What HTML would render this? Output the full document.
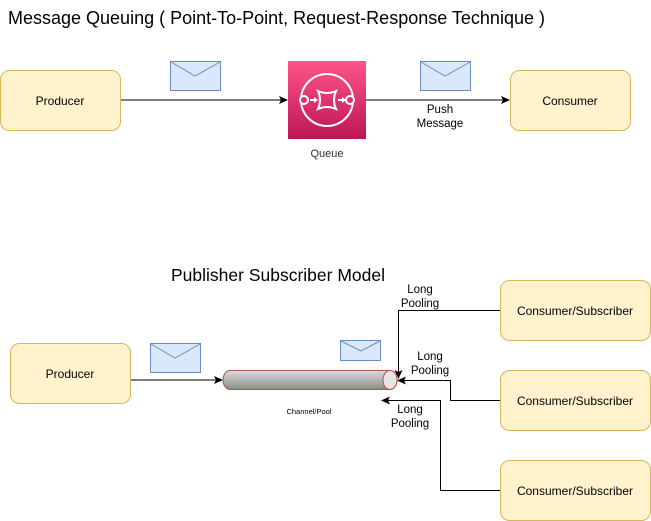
<!DOCTYPE html><html><head><style>body{margin:0;background:#fff}svg{display:block}text{font-family:"Liberation Sans",Arial,sans-serif}</style></head><body>
<svg width="651" height="521" viewBox="0 0 651 521" xmlns="http://www.w3.org/2000/svg">
<defs>
<marker id="a" markerWidth="10" markerHeight="10" refX="8" refY="5" orient="auto" markerUnits="userSpaceOnUse"><path d="M0,1 L9,5 L0,9 L2,5z" fill="#000"/></marker>
<linearGradient id="q" x1="0" y1="0" x2="0" y2="1"><stop offset="0" stop-color="#fe5489"/><stop offset="1" stop-color="#bd1657"/></linearGradient>
<linearGradient id="c" x1="0" y1="0" x2="0" y2="1"><stop offset="0" stop-color="#dcdcdc"/><stop offset="1" stop-color="#8a8a8a"/></linearGradient>
</defs>
<text x="8" y="24" font-size="18">Message Queuing ( Point-To-Point, Request-Response Technique )</text>
<rect x="0.5" y="70.5" width="120" height="60" rx="9" fill="#fff2cc" stroke="#d6b656"/>
<text x="60" y="105" font-size="12" text-anchor="middle">Producer</text>
<rect x="510.5" y="70.5" width="120" height="60" rx="9" fill="#fff2cc" stroke="#d6b656"/>
<text x="570" y="105" font-size="12" text-anchor="middle">Consumer</text>
<line x1="121" y1="100" x2="287" y2="100" stroke="#000" marker-end="url(#a)"/>
<line x1="366" y1="100" x2="509" y2="100" stroke="#000" marker-end="url(#a)"/>
<g fill="#dae8fc" stroke="#6c8ebf"><rect x="170.5" y="61.5" width="50" height="29"/><rect x="420.5" y="61.5" width="50" height="29"/></g>
<g fill="none" stroke="#6c8ebf"><path d="M171,62 L195,76 L220,62"/><path d="M421,62 L445,76 L470,62"/></g>
<rect x="288" y="61" width="78" height="78" fill="url(#q)"/>
<g stroke="#fff" stroke-width="2" fill="none">
<circle cx="327" cy="100" r="26"/>
<circle cx="304" cy="100" r="4" fill="#e03070"/><circle cx="350" cy="100" r="4" fill="#e03070"/>
<path d="M310,100 H316 M338,100 H344"/>
<path d="M318,91 Q327,95 336,91 Q332,100 336,109 Q327,105 318,109 Q322,100 318,91z"/>
</g>
<path d="M314,97 L318,100 L314,103z M342,97 L346,100 L342,103z" fill="#fff"/>
<text x="327" y="157" font-size="11" text-anchor="middle" fill="#232f3e">Queue</text>
<text x="440" y="113" font-size="11.5" text-anchor="middle">Push</text>
<text x="440" y="127" font-size="11.5" text-anchor="middle">Message</text>

<text x="278" y="281" font-size="17.5" text-anchor="middle">Publisher Subscriber Model</text>
<rect x="10.5" y="343.5" width="120" height="60" rx="9" fill="#fff2cc" stroke="#d6b656"/>
<text x="70" y="378" font-size="12" text-anchor="middle">Producer</text>
<g fill="#fff2cc" stroke="#d6b656"><rect x="500.5" y="280.5" width="150" height="60" rx="9"/><rect x="500.5" y="370.5" width="150" height="60" rx="9"/><rect x="500.5" y="460.5" width="150" height="60" rx="9"/></g>
<g font-size="12" text-anchor="middle"><text x="575" y="315">Consumer/Subscriber</text><text x="575" y="405">Consumer/Subscriber</text><text x="575" y="495">Consumer/Subscriber</text></g>
<g fill="#dae8fc" stroke="#6c8ebf"><rect x="150.5" y="343.5" width="50" height="29"/><rect x="340.5" y="340.5" width="40" height="20"/></g>
<g fill="none" stroke="#6c8ebf"><path d="M151,344 L175,358 L200,344"/><path d="M341,341 L361,351 L380,341"/></g>
<line x1="131" y1="380" x2="222" y2="380" stroke="#000" marker-end="url(#a)"/>
<path d="M230,370.5 H390 A7,9.5 0 0 1 390,389.5 H230 A7,9.5 0 0 1 230,370.5z" fill="url(#c)" stroke="#b85450"/>
<ellipse cx="390" cy="380" rx="7" ry="9.5" fill="#e6e6e6" stroke="#b85450"/>
<text x="309" y="414" font-size="7.5" text-anchor="middle">Channel/Pool</text>
<g fill="none" stroke="#000">
<path d="M500,310.5 H398.5 V378" marker-end="url(#a)"/>
<path d="M500,400.5 H450.5 V380.5 H398" marker-end="url(#a)"/>
<path d="M500,490.5 H440.5 V400.5 H382" marker-end="url(#a)"/>
</g>
<g font-size="11.5" text-anchor="middle">
<text x="420" y="293">Long</text><text x="420" y="307">Pooling</text>
<text x="430" y="360">Long</text><text x="430" y="374">Pooling</text>
<text x="410" y="413">Long</text><text x="410" y="427">Pooling</text>
</g>
</svg></body></html>
